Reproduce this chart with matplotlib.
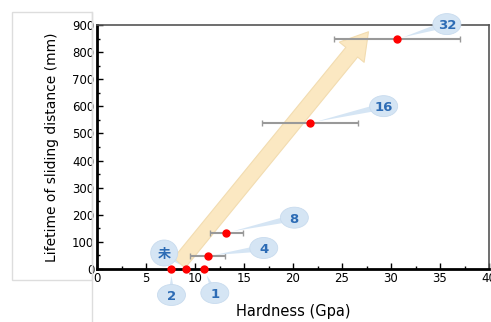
import numpy as np
import matplotlib.pyplot as plt
import matplotlib.transforms as mtransforms
from matplotlib.patches import Rectangle, Ellipse
from matplotlib.lines import Line2D

plt.rcParams['font.family'] = ['DejaVu Sans', 'Noto Sans CJK JP']

# data
hardness = [7.6, 9.1, 10.9, 11.3, 13.2, 21.7, 30.6]
lifetime = [0, 0, 0, 48, 134, 538, 848]
hard_err = [0, 0, 0, 1.8, 1.7, 4.9, 6.4]
labels = ['2', '未', '1', '4', '8', '16', '32']

# bubble offsets in pixels (layout only)
offsets = [(0, -26), (-22, 16), (11, -24), (56, 8), (68, 15), (74, 17), (50, 15)]

W, H = 491, 322
fig = plt.figure(figsize=(W / 100, H / 100), dpi=100)
ax = fig.add_axes([97 / W, (H - 269) / H, 392 / W, 244 / H])
ax.set_xlim(0, 40)
ax.set_ylim(0, 900)

# gray frame round the y label
fig.patches.append(Rectangle((12 / W, (H - 280) / H), 80 / W, 268 / H,
                             transform=fig.transFigure, fill=False,
                             ec='#dddddd', lw=1))
fig.lines.append(Line2D([92 / W, 92 / W], [0, (H - 12) / H],
                        transform=fig.transFigure, color='#dddddd', lw=1))

# big trend arrow
ax.annotate('', xy=(27.7, 875), xytext=(8.4, 22),
            arrowprops=dict(arrowstyle='simple,head_length=1.9,head_width=2.3,tail_width=1.1',
                            fc='#fbe8c2', ec='#f2dcb0', lw=0.8, mutation_scale=10,
                            shrinkA=0, shrinkB=0),
            zorder=1)

ax.errorbar(hardness, lifetime, xerr=hard_err, fmt='o', color='red', ms=5,
            ecolor='#999999', elinewidth=1.5, capsize=2.5, capthick=1,
            clip_on=False, zorder=4)

bub = '#d5e5f4'
for x, y, lab, off in zip(hardness, lifetime, labels, offsets):
    # tail
    ax.annotate('', xy=(x, y), xytext=off, textcoords='offset pixels',
                annotation_clip=False, zorder=5,
                arrowprops=dict(arrowstyle='wedge,tail_width=0.5', fc=bub,
                                ec='none', shrinkA=0, shrinkB=5))
    px, py = ax.transData.transform((x, y))
    cx, cy = px + off[0], py + off[1]
    w, h = (27, 26) if lab == '未' else (28, 21)
    e = Ellipse((cx, cy), w, h, transform=mtransforms.IdentityTransform(),
                fc=bub, ec='#c8dbee', lw=0.6, zorder=6, clip_on=False)
    ax.add_artist(e)
    ax.annotate(lab, xy=(x, y), xytext=off, textcoords='offset pixels',
                ha='center', va='center_baseline', fontsize=9.5, fontweight='bold',
                color='#2d6cb5', annotation_clip=False, zorder=7)

ax.set_xticks(np.arange(0, 41, 5))
ax.set_yticks(np.arange(0, 901, 100))
ax.set_xticks(np.arange(0, 40, 2.5), minor=True)
ax.set_yticks(np.arange(0, 900, 50), minor=True)
ax.tick_params(which='both', direction='in', labelsize=8.5, width=1)
ax.tick_params(which='major', length=4)
ax.tick_params(which='minor', length=2)
ax.tick_params(axis='x', pad=2)
ax.tick_params(axis='y', pad=2)

ax.spines['left'].set_linewidth(2)
ax.spines['bottom'].set_linewidth(2)
ax.spines['top'].set_linewidth(1.2)
ax.spines['right'].set_linewidth(1.2)
ax.spines['top'].set_color('#555555')
ax.spines['right'].set_color('#555555')

ax.set_xlabel('Hardness (Gpa)', fontsize=10.5, labelpad=14)
ax.set_ylabel('Lifetime of sliding distance (mm)', fontsize=10, labelpad=9)

fig.savefig('out.png', dpi=100)
